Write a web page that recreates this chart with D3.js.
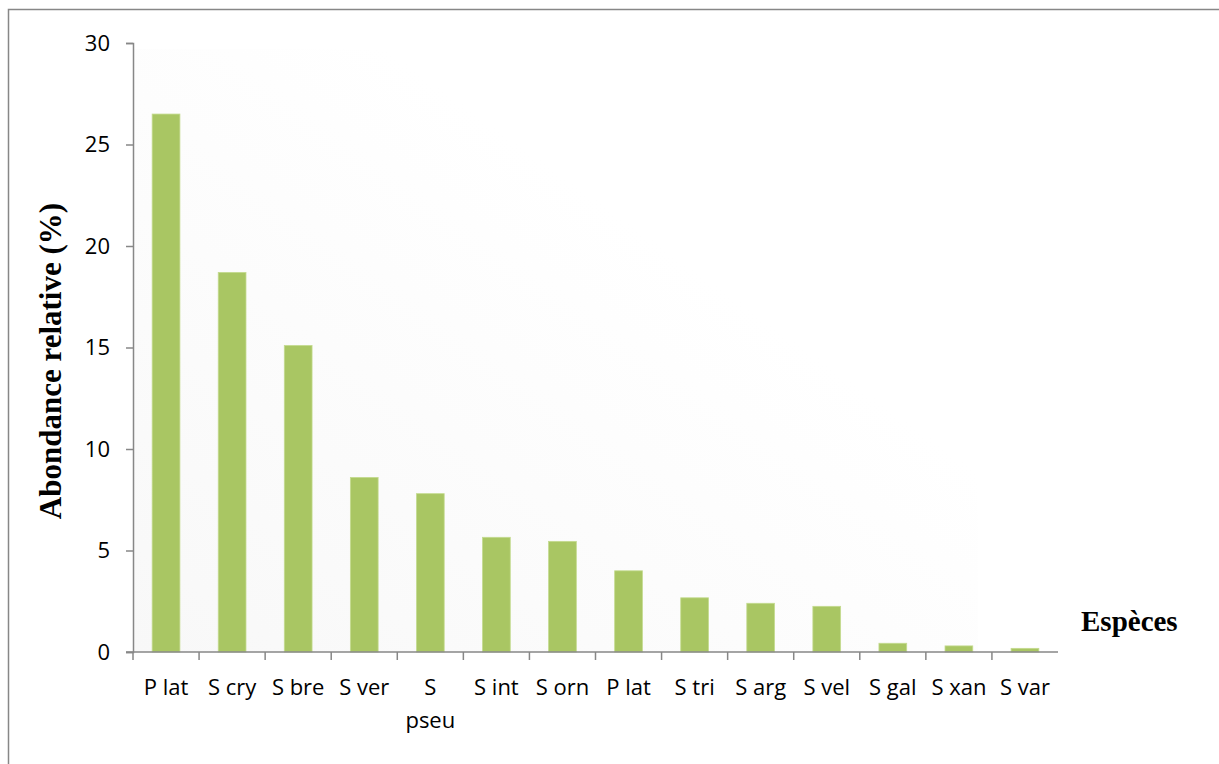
<!DOCTYPE html>
<html>
<head>
<meta charset="utf-8">
<script src="https://cdn.jsdelivr.net/npm/d3@7"></script>
<style>
  html, body { margin: 0; padding: 0; background: #fff; }
  svg { display: block; }
</style>
</head>
<body>
<svg id="chart" width="1219" height="764"></svg>
<script>
// Relative abundance of species (%)
const species = ["P lat", "S cry", "S bre", "S ver", "S pseu", "S int", "S orn",
                 "P lat", "S tri", "S arg", "S vel", "S gal", "S xan", "S var"];
const abundance = [26.5, 18.7, 15.1, 8.6, 7.8, 5.65, 5.45, 4.0, 2.67, 2.4, 2.25, 0.43, 0.3, 0.18];
const yTicks = [0, 5, 10, 15, 20, 25, 30];

(function () {
  const svg = d3.select("#chart");
  const W = 1219, H = 764;
  const plotL = 133, plotR = 1058, plotT = 43, plotB = 652;
  const axisColor = "#878787";
  const barColor = "#a9c663";

  // Outer chart frame (only its top and left edges fall inside the page)
  svg.append("rect")
    .attr("x", 8.5).attr("y", 9.5)
    .attr("width", W + 20).attr("height", H + 20)
    .attr("fill", "none").attr("stroke", axisColor).attr("stroke-width", 1.5);

  // Very soft shading behind the plot area
  const defs = svg.append("defs");
  const grad = defs.append("linearGradient").attr("id", "plotShade")
    .attr("x1", "0").attr("y1", "1").attr("x2", "1").attr("y2", "0");
  grad.append("stop").attr("offset", "0").attr("stop-color", "#f8f8f8");
  grad.append("stop").attr("offset", "0.65").attr("stop-color", "#ffffff");
  svg.append("rect")
    .attr("x", plotL).attr("y", plotT + 6)
    .attr("width", plotR - plotL - 80).attr("height", plotB - plotT - 6)
    .attr("fill", "url(#plotShade)");

  const x = d3.scaleBand()
    .domain(species.map((d, i) => i))
    .range([plotL, plotR])
    .padding(0);

  const y = d3.scaleLinear().domain([0, 30]).range([plotB, plotT]);

  const barW = x.bandwidth() * 0.42;

  // Bars
  svg.append("g").selectAll("rect")
    .data(abundance)
    .join("rect")
    .attr("x", (d, i) => x(i) + (x.bandwidth() - barW) / 2)
    .attr("y", d => y(d))
    .attr("width", barW)
    .attr("height", d => y(0) - y(d))
    .attr("fill", barColor)
    .attr("stroke", "#c4db8f")
    .attr("stroke-width", 0.8);

  // Y axis
  const yAxis = d3.axisLeft(y).tickValues(yTicks).tickSize(7).tickPadding(16);
  const gy = svg.append("g").attr("transform", `translate(${plotL},0)`).call(yAxis);
  gy.select(".domain").attr("stroke", axisColor).attr("stroke-width", 1.5);
  gy.selectAll(".tick line").attr("stroke", axisColor).attr("stroke-width", 1.5);
  gy.selectAll(".tick text")
    .attr("font-family", "'Open Sans', sans-serif")
    .attr("font-size", 22)
    .attr("fill", "#000");

  // X axis: line with tick marks at category boundaries
  const gx = svg.append("g");
  gx.append("line")
    .attr("x1", plotL - 7).attr("x2", plotR)
    .attr("y1", plotB).attr("y2", plotB)
    .attr("stroke", axisColor).attr("stroke-width", 1.5);
  gx.selectAll("line.tk")
    .data(species.map((d, i) => i))
    .join("line")
    .attr("class", "tk")
    .attr("x1", i => x(i)).attr("x2", i => x(i))
    .attr("y1", plotB).attr("y2", plotB + 8)
    .attr("stroke", axisColor).attr("stroke-width", 1.5);

  // Category labels, long names wrapped onto two lines
  const labels = gx.selectAll("text.cat")
    .data(species)
    .join("text")
    .attr("class", "cat")
    .attr("x", (d, i) => x(i) + x.bandwidth() / 2)
    .attr("y", 695)
    .attr("text-anchor", "middle")
    .attr("font-family", "'Open Sans', sans-serif")
    .attr("font-size", 22)
    .attr("fill", "#000");
  labels.each(function (d, i) {
    const t = d3.select(this);
    const lines = d.length > 5 ? d.split(" ") : [d];
    lines.forEach((ln, k) => {
      t.append("tspan")
        .attr("x", x(i) + x.bandwidth() / 2)
        .attr("dy", k === 0 ? 0 : 33)
        .text(ln);
    });
  });

  // Axis titles
  svg.append("text")
    .attr("transform", `translate(61,361) rotate(-90)`)
    .attr("text-anchor", "middle")
    .attr("font-family", "'Liberation Serif', 'Times New Roman', serif")
    .attr("font-weight", "bold")
    .attr("font-size", 31)
    .attr("fill", "#000")
    .text("Abondance relative (%)");

  svg.append("text")
    .attr("x", 1081)
    .attr("y", 631)
    .attr("font-family", "'Liberation Serif', 'Times New Roman', serif")
    .attr("font-weight", "bold")
    .attr("font-size", 29)
    .attr("fill", "#000")
    .text("Espèces");
})();
</script>
</body>
</html>
